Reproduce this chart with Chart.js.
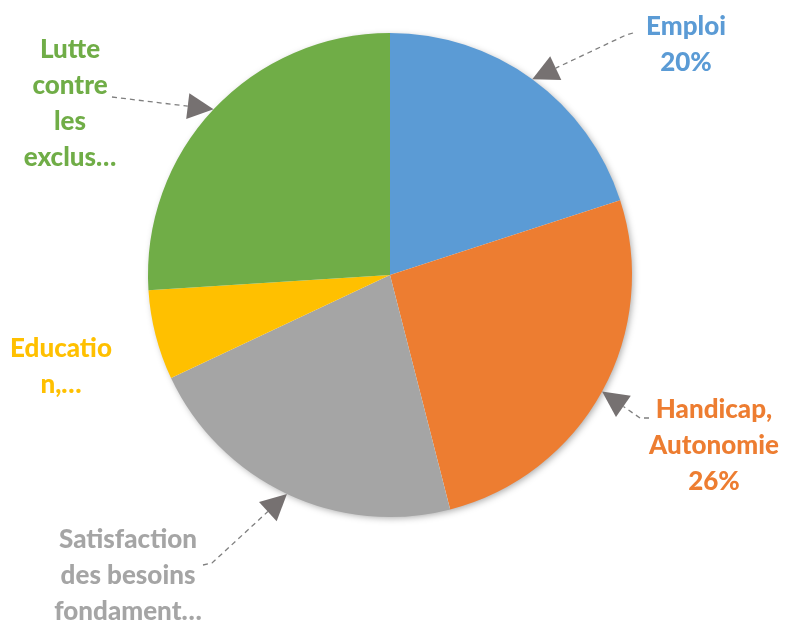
<!DOCTYPE html>
<html>
<head>
<meta charset="utf-8">
<script src="https://cdn.jsdelivr.net/npm/chart.js@4.4.0/dist/chart.umd.min.js"></script>
<style>
  html, body { margin: 0; padding: 0; background: #fff; }
  #wrap { width: 786px; height: 620px; position: relative; }
</style>
</head>
<body>
<div id="wrap"><canvas id="pieChart" width="786" height="620"></canvas></div>
<script>
// categories and values
const categories = [
  "Emploi",
  "Handicap, Autonomie",
  "Satisfaction des besoins fondamentaux",
  "Education, formation",
  "Lutte contre les exclusions"
];
const values = [20, 26, 22, 6, 26];
const colors = ["#5B9BD5", "#ED7D31", "#A5A5A5", "#FFC000", "#70AD47"];

// label text as shown (Excel truncated some of them)
const labelLines = [
  ["Emploi"],
  ["Handicap,", "Autonomie"],
  ["Satisfaction", "des besoins", "fondament\u2026"],
  ["Educatio", "n,\u2026"],
  ["Lutte", "contre", "les", "exclus\u2026"]
];
const showPercent = [true, true, false, false, false];

// where each label block sits (center x, first baseline) and where its leader starts
const labelLayout = [
  { x: 686, y: 35, start: [633, 33], elbow: [626, 35] },
  { x: 714, y: 418, start: [649, 418], elbow: [640, 418] },
  { x: 128, y: 548, start: [203, 565], elbow: [212, 563] },
  { x: 61, y: 357, start: null },
  { x: 70, y: 58, start: [112, 97], elbow: null }
];

const lineH = 36;

const labelPlugin = {
  id: "leaderLabels",
  beforeDatasetsDraw(chart) {
    // soft shadow under the whole pie
    const arc = chart.getDatasetMeta(0).data[0];
    const ctx = chart.ctx;
    ctx.save();
    ctx.shadowColor = "rgba(0,0,0,0.35)";
    ctx.shadowBlur = 7;
    ctx.shadowOffsetX = 2;
    ctx.shadowOffsetY = 2;
    ctx.fillStyle = "#fff";
    ctx.beginPath();
    ctx.arc(arc.x, arc.y, arc.outerRadius - 1, 0, Math.PI * 2);
    ctx.fill();
    ctx.restore();
  },
  afterDatasetsDraw(chart) {
    const ctx = chart.ctx;
    const meta = chart.getDatasetMeta(0);
    const total = values.reduce((a, b) => a + b, 0);

    meta.data.forEach((arc, i) => {
      const lay = labelLayout[i];
      const mid = (arc.startAngle + arc.endAngle) / 2;
      const tip = [arc.x + Math.cos(mid) * arc.outerRadius, arc.y + Math.sin(mid) * arc.outerRadius];

      if (lay.start) {
        const from = lay.elbow || lay.start;
        let ux = tip[0] - from[0], uy = tip[1] - from[1];
        const len = Math.hypot(ux, uy);
        ux /= len; uy /= len;
        const L = 26, W = 13;
        const base = [tip[0] - ux * L, tip[1] - uy * L];

        ctx.save();
        ctx.strokeStyle = "#7F7F7F";
        ctx.lineWidth = 1.3;
        ctx.setLineDash([5, 4]);
        ctx.beginPath();
        ctx.moveTo(lay.start[0], lay.start[1]);
        if (lay.elbow) ctx.lineTo(lay.elbow[0], lay.elbow[1]);
        ctx.lineTo(base[0], base[1]);
        ctx.stroke();
        ctx.setLineDash([]);

        ctx.fillStyle = "#767171";
        ctx.beginPath();
        ctx.moveTo(tip[0], tip[1]);
        ctx.lineTo(base[0] - uy * W, base[1] + ux * W);
        ctx.lineTo(base[0] + uy * W, base[1] - ux * W);
        ctx.closePath();
        ctx.fill();
        ctx.restore();
      }

      const lines = labelLines[i].slice();
      if (showPercent[i]) lines.push(Math.round(values[i] / total * 100) + "%");
      ctx.save();
      ctx.fillStyle = colors[i];
      ctx.font = "900 26px Lato";
      ctx.textAlign = "center";
      ctx.textBaseline = "alphabetic";
      lines.forEach((t, k) => ctx.fillText(t, lay.x, lay.y + k * lineH));
      ctx.restore();
    });
  }
};

new Chart(document.getElementById("pieChart"), {
  type: "pie",
  data: {
    labels: categories,
    datasets: [
      {
        data: values,
        backgroundColor: colors,
        borderWidth: 0,
      },
    ],
  },
  options: {
    responsive: false,
    animation: false,
    layout: {
      padding: { top: 33, bottom: 103, left: 148, right: 154 },
    },
    plugins: {
      legend: { display: false },
      tooltip: { enabled: false },
    },
  },
  plugins: [labelPlugin],
});
</script>
</body>
</html>
